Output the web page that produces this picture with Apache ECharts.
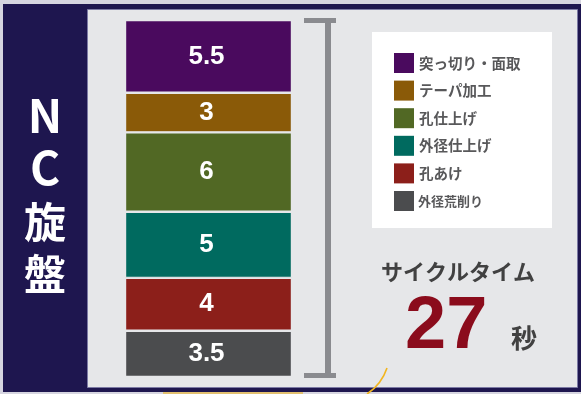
<!DOCTYPE html>
<html>
<head>
<meta charset="utf-8">
<script src="https://cdn.jsdelivr.net/npm/echarts@6/dist/echarts.min.js"></script>
<style>
html,body{margin:0;padding:0;background:#d6d5e0;}
#c{width:581px;height:394px;}
</style>
</head>
<body>
<div id="c"></div>
<script>
// ---- data ----
const categories = ['NC旋盤'];
const seriesNames = ['外径荒削り', '孔あけ', '外径仕上げ', '孔仕上げ', 'テーパ加工', '突っ切り・面取'];
const seriesValues = [3.5, 4, 5, 6, 3, 5.5];
const titleChars = ['N', 'C', '旋', '盤'];
const cycleLabel = 'サイクルタイム';
const unitLabel = '秒';

// ---- styles ----
const palette = ['#4b4c4e', '#8c1f1a', '#006a5f', '#516824', '#8a5a08', '#4a0a5e'];
const panelColor = '#e6e7e9';
const navy = '#1e164f';
const cjk = '"Noto Sans CJK JP", "Noto Sans", sans-serif';
const latin = '"Liberation Sans", Arial, sans-serif';

const total = seriesValues.reduce((a, b) => a + b, 0);

const chart = echarts.init(document.getElementById('c'), null, {renderer: 'canvas'});

const series = seriesNames.map((name, i) => ({
  name: name,
  type: 'bar',
  stack: 'total',
  barWidth: '100%',
  data: [seriesValues[i]],
  itemStyle: {color: palette[i], borderColor: panelColor, borderWidth: 1.2},
  label: {
    show: true,
    position: 'inside',
    offset: [-2, 0],
    color: '#ffffff',
    fontFamily: latin,
    fontWeight: 'bold',
    fontSize: 26
  },
  emphasis: {disabled: true},
  z: 3
}));

const titleY = [116, 168, 222, 274];
const titleEls = titleChars.map((ch, i) => ({
  type: 'text',
  x: 45, y: titleY[i],
  style: {
    text: ch,
    fill: '#ffffff',
    font: 'bold ' + (i < 2 ? 46 : 42) + 'px ' + cjk,
    textAlign: 'center',
    textVerticalAlign: 'middle'
  },
  z: 5
}));

chart.setOption({
  animation: false,
  backgroundColor: '#d6d5e0',
  grid: {left: 125, right: 289, top: 20, bottom: 17, containLabel: false},
  xAxis: {type: 'category', data: categories, show: false},
  yAxis: {type: 'value', min: 0, max: total, show: false},
  legend: {
    orient: 'vertical',
    left: 394,
    top: 53,
    padding: 0,
    itemWidth: 20,
    itemHeight: 20,
    itemGap: 7.6,
    icon: 'rect',
    itemStyle: {borderWidth: 0},
    data: seriesNames.slice().reverse(),
    selectedMode: false,
    formatter: function (name) {
      return name === '外径荒削り' ? '{s|' + name + '}' : '{n|' + name + '}';
    },
    textStyle: {
      color: '#58585a',
      fontFamily: cjk,
      fontWeight: 'bold',
      fontSize: 14.5,
      lineHeight: 20,
      rich: {
        n: {color: '#58585a', fontFamily: cjk, fontWeight: 'bold', fontSize: 14.5, lineHeight: 20},
        s: {color: '#58585a', fontFamily: cjk, fontWeight: 'bold', fontSize: 13, lineHeight: 20, padding: [0, 0, 0, -1]}
      }
    },
    z: 10
  },
  graphic: {
    elements: [
      {type: 'rect', shape: {x: 3, y: 4, width: 578, height: 388}, style: {fill: navy}, z: -10},
      {type: 'rect', shape: {x: 163, y: 392, width: 140, height: 2}, style: {fill: '#e2c070'}, z: -10},
      {type: 'rect', shape: {x: 87.5, y: 9.5, width: 490, height: 378}, style: {fill: panelColor, stroke: '#7c7aa4', lineWidth: 1}, z: -9},
      {type: 'rect', shape: {x: 372, y: 32, width: 180, height: 196}, style: {fill: '#ffffff'}, z: -8},
      // bracket
      {type: 'rect', shape: {x: 325, y: 18, width: 6, height: 360}, style: {fill: '#8a8b8f'}, z: -7},
      {type: 'rect', shape: {x: 304, y: 18, width: 32, height: 5}, style: {fill: '#8a8b8f'}, z: -7},
      {type: 'rect', shape: {x: 304, y: 373, width: 32, height: 5}, style: {fill: '#8a8b8f'}, z: -7},
      // yellow swoosh
      {type: 'bezierCurve', shape: {x1: 387, y1: 368, cpx1: 383, cpy1: 380, cpx2: 376, cpy2: 388, x2: 367, y2: 394}, style: {stroke: '#f2b51e', lineWidth: 1.6, fill: null}, z: -6},
      {type: 'text', x: 458, y: 272, style: {text: cycleLabel, fill: '#414141', font: 'bold 22px ' + cjk, textAlign: 'center', textVerticalAlign: 'middle'}, z: 5},
      {type: 'text', x: 405, y: 365, style: {text: String(total), fill: '#8b0c1c', font: 'bold 74px ' + latin, textAlign: 'left', textVerticalAlign: 'bottom'}, z: 5},
      {type: 'text', x: 524, y: 338, style: {text: unitLabel, fill: '#414141', font: 'bold 26px ' + cjk, textAlign: 'center', textVerticalAlign: 'middle'}, z: 5}
    ].concat(titleEls)
  },
  series: series
});
</script>
</body>
</html>
